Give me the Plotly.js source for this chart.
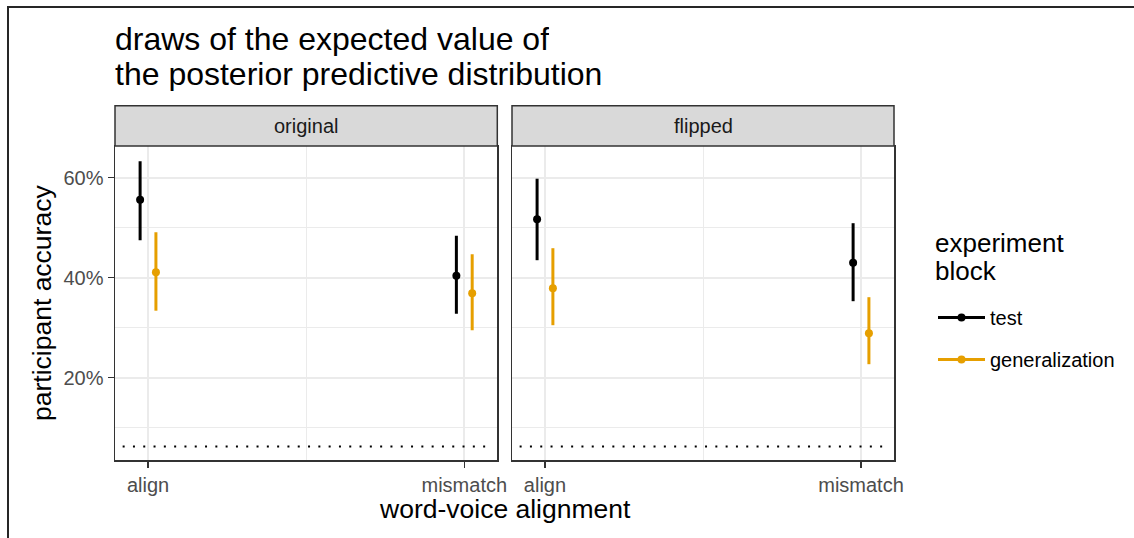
<!DOCTYPE html>
<html>
<head>
<meta charset="utf-8">
<script src="https://cdn.plot.ly/plotly-3.0.1.min.js"></script>
<style>
  html, body { margin: 0; padding: 0; background: #ffffff; }
  #chart { width: 1134px; height: 538px; position: absolute; left: 0; top: 0; }
  #frame { position: absolute; left: 7px; top: 6px; width: 1200px; height: 600px;
           border-top: 2px solid #262626; border-left: 2px solid #262626; pointer-events: none; }
</style>
</head>
<body>
<div id="chart"></div>
<div id="frame"></div>
<script>
// ---- data ----
const categories = ['align', 'mismatch'];
const facets = ['original', 'flipped'];
const seriesNames = ['test', 'generalization'];
const seriesColors = ['#000000', '#E69F00'];
const titleLines = ['draws of the expected value of', 'the posterior predictive distribution'];
const legendTitleLines = ['experiment', 'block'];
const xTitle = 'word-voice alignment';
const yTitle = 'participant accuracy';
const chanceLevel = 0.0625;

// original facet
const testOriginalMean = [0.556, 0.404];
const testOriginalLow  = [0.475, 0.328];
const testOriginalHigh = [0.633, 0.484];
const genOriginalMean  = [0.411, 0.369];
const genOriginalLow   = [0.334, 0.295];
const genOriginalHigh  = [0.491, 0.447];
// flipped facet
const testFlippedMean = [0.517, 0.430];
const testFlippedLow  = [0.435, 0.353];
const testFlippedHigh = [0.598, 0.509];
const genFlippedMean  = [0.379, 0.289];
const genFlippedLow   = [0.305, 0.227];
const genFlippedHigh  = [0.459, 0.361];

const yTickVals = [0.2, 0.4, 0.6];
const yMinorVals = [0.1, 0.3, 0.5];

// ---- build ----
const FONT = 'Liberation Sans, Arial, Helvetica, sans-serif';
const dodgeWidth = 0.05;
const estimates = {
  original: [
    {mean: testOriginalMean, low: testOriginalLow, high: testOriginalHigh},
    {mean: genOriginalMean, low: genOriginalLow, high: genOriginalHigh}
  ],
  flipped: [
    {mean: testFlippedMean, low: testFlippedLow, high: testFlippedHigh},
    {mean: genFlippedMean, low: genFlippedLow, high: genFlippedHigh}
  ]
};

const traces = [];
facets.forEach((facet, fi) => {
  const sfx = fi === 0 ? '' : String(fi + 1);
  seriesNames.forEach((name, si) => {
    const e = estimates[facet][si];
    const off = (si - (seriesNames.length - 1) / 2) * dodgeWidth;
    traces.push({
      type: 'scatter', mode: 'markers',
      x: categories.map((c, i) => i + off),
      y: e.mean,
      xaxis: 'x' + sfx, yaxis: 'y' + sfx,
      marker: {color: seriesColors[si], size: 8},
      error_y: {type: 'data', symmetric: false,
        array: e.high.map((h, i) => h - e.mean[i]),
        arrayminus: e.mean.map((m, i) => m - e.low[i]),
        color: seriesColors[si], thickness: 3, width: 0},
      showlegend: false, hoverinfo: 'x+y', name: name
    });
  });
});
// legend keys (pointrange style)
seriesNames.forEach((name, si) => {
  traces.push({
    type: 'scatter', mode: 'lines+markers', x: [null], y: [null],
    name: name, legendgroup: name,
    line: {color: seriesColors[si], width: 3},
    marker: {color: seriesColors[si], size: 8},
    showlegend: true
  });
});

const W = 1134, H = 538;
const M = {l: 115, r: 240, t: 146, b: 78};
const plotW = W - M.l - M.r, plotH = H - M.t - M.b;
const px2x = p => (p - M.l) / plotW;
const px2y = p => 1 - (p - M.t) / plotH;

const gridMajor = '#EBEBEB';
const xBase = {
  range: [-0.1044, 1.1044], tickvals: [0, 1], ticktext: categories,
  showgrid: true, gridcolor: gridMajor, gridwidth: 2,
  minor: {tickvals: [0.5], showgrid: true, gridcolor: gridMajor, gridwidth: 1, ticks: ''},
  zeroline: false, showline: true, mirror: true, linecolor: '#333333', linewidth: 1.5,
  ticks: 'outside', ticklen: 6, tickwidth: 1.5, tickcolor: '#333333',
  tickfont: {family: FONT, size: 20, color: '#4D4D4D'}, fixedrange: true
};
const yBase = {
  range: [0.0354, 0.6634], tickvals: yTickVals, tickformat: '.0%',
  showgrid: true, gridcolor: gridMajor, gridwidth: 2,
  minor: {tickvals: yMinorVals, showgrid: true, gridcolor: gridMajor, gridwidth: 1, ticks: ''},
  zeroline: false, showline: true, mirror: true, linecolor: '#333333', linewidth: 1.5,
  ticks: 'outside', ticklen: 6, tickwidth: 1.5, tickcolor: '#333333',
  tickfont: {family: FONT, size: 20, color: '#4D4D4D'}, fixedrange: true
};

const stripTop = 1 + 40.3 / plotH;
const shapes = [], annotations = [];
facets.forEach((facet, fi) => {
  const xa = fi === 0 ? 'x' : 'x2';
  const ya = fi === 0 ? 'y' : 'y2';
  shapes.push({type: 'rect', xref: xa + ' domain', yref: 'paper', x0: 0, x1: 1, y0: 1, y1: stripTop,
    fillcolor: '#D9D9D9', line: {color: '#333333', width: 1.5}, layer: 'above'});
  shapes.push({type: 'line', xref: xa + ' domain', yref: ya, x0: 0.02, x1: 0.985, y0: chanceLevel, y1: chanceLevel,
    line: {color: '#000000', width: 2, dash: '2px,8.3px'}, layer: 'above'});
  annotations.push({xref: xa + ' domain', yref: 'paper', x: 0.5, y: (1 + stripTop) / 2,
    text: facet, showarrow: false, xanchor: 'center', yanchor: 'middle',
    font: {family: FONT, size: 20, color: '#1A1A1A'}});
});
// title lines
titleLines.forEach((t, i) => {
  annotations.push({xref: 'paper', yref: 'paper', x: px2x(113), y: px2y(39 + i * 35),
    text: t, showarrow: false, xanchor: 'left', yanchor: 'middle', height: 34,
    font: {family: FONT, size: 32, color: '#000000'}});
});
// axis titles
annotations.push({xref: 'paper', yref: 'paper', x: px2x(504.8), y: px2y(509),
  text: xTitle, showarrow: false, xanchor: 'center', yanchor: 'middle',
  font: {family: FONT, size: 26.5, color: '#000000'}});
annotations.push({xref: 'paper', yref: 'paper', x: px2x(42), y: 0.5,
  text: yTitle, showarrow: false, xanchor: 'center', yanchor: 'middle', textangle: -90,
  font: {family: FONT, size: 26.5, color: '#000000'}});
// legend title lines
legendTitleLines.forEach((t, i) => {
  annotations.push({xref: 'paper', yref: 'paper', x: px2x(933), y: px2y(243 + i * 28),
    text: t, showarrow: false, xanchor: 'left', yanchor: 'middle',
    font: {family: FONT, size: 26, color: '#000000'}});
});

const layout = {
  width: W, height: H, margin: M,
  paper_bgcolor: '#FFFFFF', plot_bgcolor: '#FFFFFF',
  font: {family: FONT, color: '#000000'},
  xaxis: Object.assign({}, xBase, {domain: [0, px2x(497.3)], anchor: 'y'}),
  xaxis2: Object.assign({}, xBase, {domain: [px2x(512), 1], anchor: 'y2'}),
  yaxis: Object.assign({}, yBase, {domain: [0, 1], anchor: 'x'}),
  yaxis2: Object.assign({}, yBase, {domain: [0, 1], anchor: 'x2', matches: 'y', showticklabels: false, ticks: ''}),
  showlegend: true,
  legend: {x: px2x(933), xanchor: 'left', y: px2y(298), yanchor: 'top',
    font: {family: FONT, size: 20, color: '#000000'}, itemwidth: 47,
    traceorder: 'grouped', tracegroupgap: 13, bgcolor: 'rgba(0,0,0,0)'},
  shapes: shapes, annotations: annotations
};

Plotly.newPlot('chart', traces, layout, {staticPlot: true, displayModeBar: false});
</script>
</body>
</html>
